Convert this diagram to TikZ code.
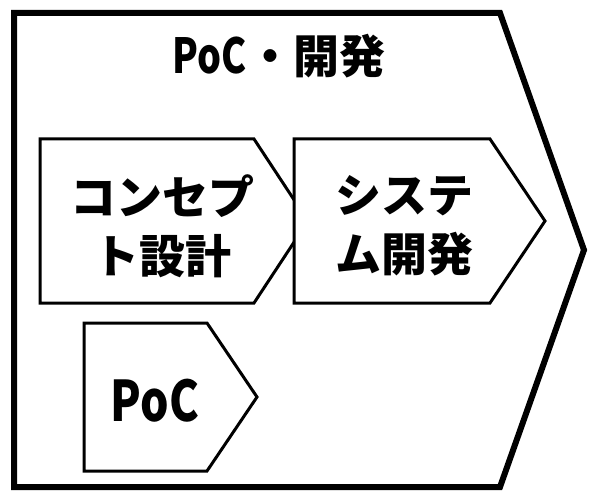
\documentclass[tikz,border=0pt]{standalone}
\usepackage{fontspec}
\newfontfamily\jp{Noto Sans CJK JP}
\begin{document}
\begin{tikzpicture}[x=1pt,y=-1pt,
  outer/.style={draw=black,line width=6pt,fill=white,line join=miter},
  stepshape/.style={draw=black,line width=3pt,fill=white,line join=miter},
  jtext/.style={font=\jp\bfseries\fontsize{46}{59}\selectfont,align=center,inner sep=0pt},
  titletext/.style={font=\jp\bfseries\fontsize{46}{59}\selectfont,inner sep=0pt},
  pocfont/.style={font=\jp\bfseries\fontsize{56}{60}\selectfont,inner sep=0pt}]
\useasboundingbox (0,0) rectangle (593,494);
\fill[white] (0,0) rectangle (593,494);
% outer chevron
\draw[outer] (14,13) -- (500,13) -- (584,250) -- (500,487) -- (14,487) -- cycle;
% step shapes
\draw[stepshape] (40,139) -- (254,139) -- (308,221) -- (254,303) -- (40,303) -- cycle;
\draw[stepshape] (294,139) -- (490,139) -- (545,221) -- (490,303) -- (294,303) -- cycle;
\draw[stepshape] (84,323) -- (207,323) -- (257,397) -- (207,471) -- (84,471) -- cycle;
% texts
\node[titletext] (title) at (279,56) {\scalebox{0.82}[1.05]{PoC}・開発};
\node[jtext] (concept) at (162,226) {コンセプ\\ト設計};
\node[jtext] (system) at (404,226) {システ\\ム開発};
\node[pocfont] (poc) at (155,401) {\scalebox{0.8}[1]{PoC}};
\end{tikzpicture}
\end{document}
